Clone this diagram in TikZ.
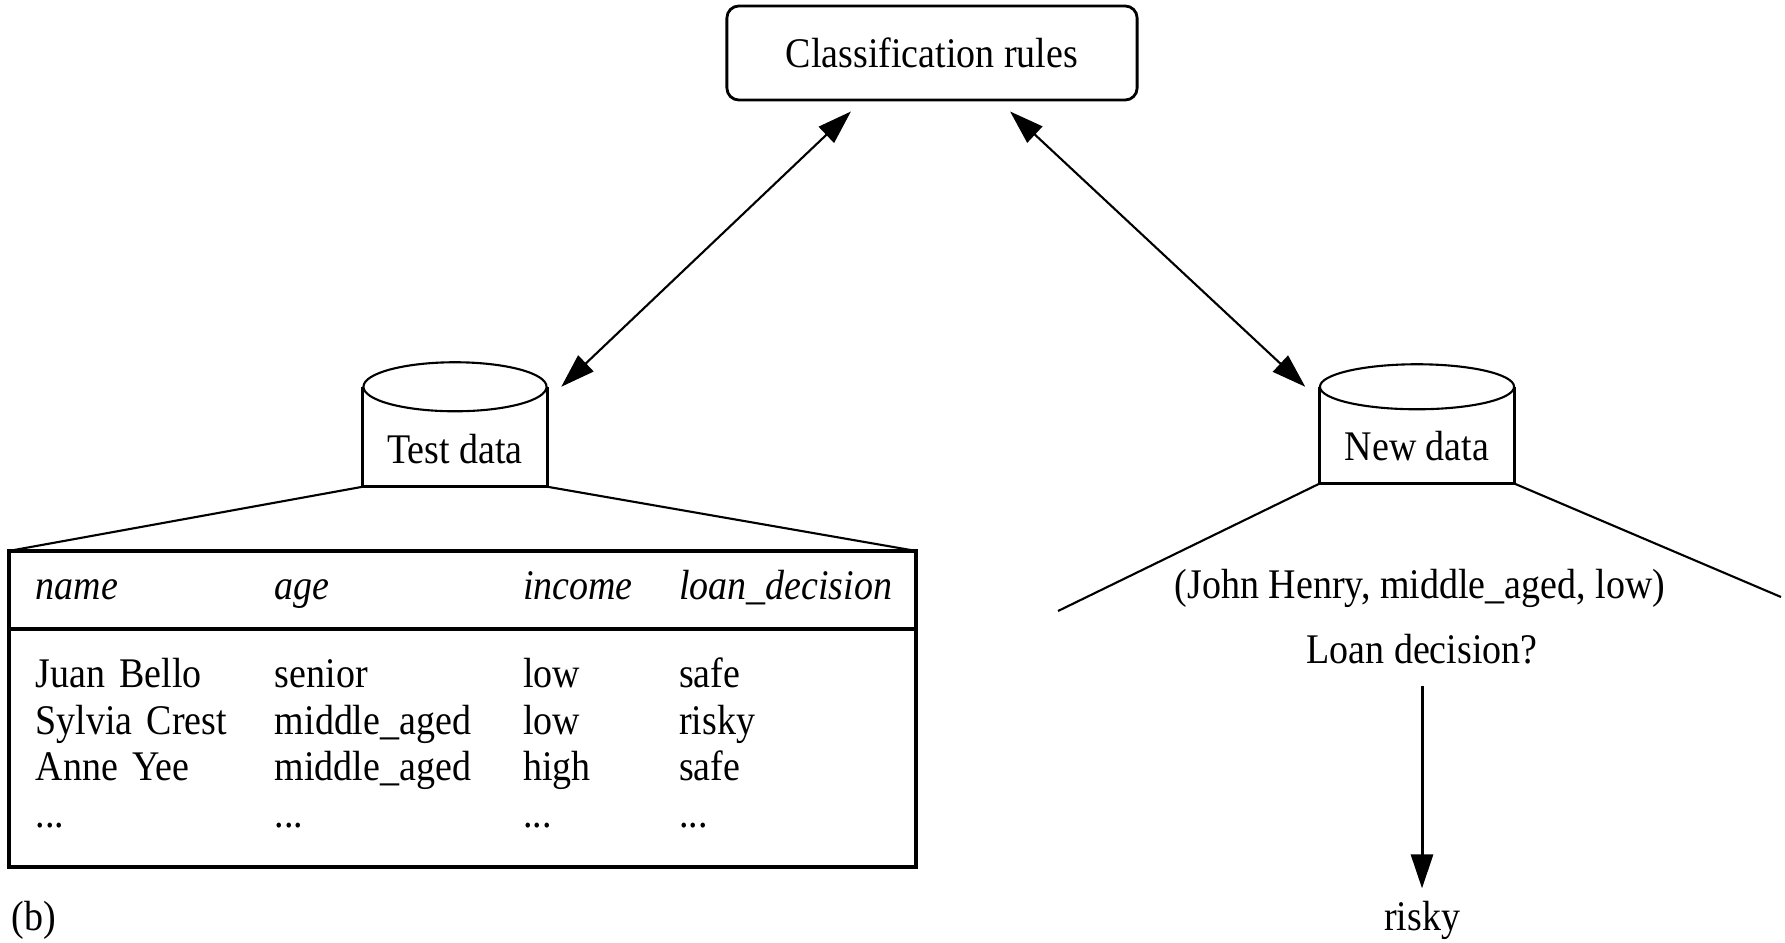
\documentclass[tikz,border=0pt]{standalone}
\usepackage{fontspec}
\setmainfont{Liberation Serif}[FakeStretch=0.9]
\usetikzlibrary{arrows.meta,positioning}

\begin{document}
\begin{tikzpicture}[x=0.01cm, y=-0.01cm,
  every node/.style={font=\fontsize{12}{13.3}\selectfont},
  rulebox/.style={draw, rounded corners=0.12cm, line width=0.8pt, minimum width=4.1cm, minimum height=0.94cm},
  store/.style={inner sep=0pt},
  tablebox/.style={draw, line width=1.1pt, inner xsep=0.27cm, inner ysep=0pt, text width=8.53cm, align=left, outer sep=0pt},
  link/.style={{Triangle[length=3.4mm,width=2.2mm]}-{Triangle[length=3.4mm,width=2.2mm]}, line width=0.6pt},
  fan/.style={line width=0.6pt}]

\useasboundingbox (0,0) rectangle (1785,942);

\node[rulebox] (rules) at (932,53) {Classification rules};

% data stores
\node[store, minimum width=1.83cm, minimum height=0.74cm] (testdata) at (455,449) {Test data};
\draw[line width=0.85pt] ([yshift=0.245cm]testdata.north west) -- (testdata.south west) -- (testdata.south east) -- ([yshift=0.245cm]testdata.north east);
\draw[line width=0.6pt] ([yshift=0.245cm]testdata.north) ellipse [x radius=0.915cm, y radius=0.245cm];

\node[store, minimum width=1.94cm, minimum height=0.73cm] (newdata) at (1417,446.5) {New data};
\draw[line width=0.85pt] ([yshift=0.225cm]newdata.north west) -- (newdata.south west) -- (newdata.south east) -- ([yshift=0.225cm]newdata.north east);
\draw[line width=0.6pt] ([yshift=0.225cm]newdata.north) ellipse [x radius=0.97cm, y radius=0.225cm];

% table of test tuples
\node[tablebox, minimum height=0.78cm] (thead) at (462.5,590) {%
  \begin{tabular}{@{}p{2.39cm}@{}p{2.48cm}@{}p{1.56cm}@{}l@{}}
  \textit{name} & \textit{age} & \textit{income} & \textit{loan\_decision}
  \end{tabular}};
\node[tablebox, minimum height=2.38cm, below=0pt of thead] (tbody) {%
  \begin{tabular}{@{}p{2.39cm}@{}p{2.48cm}@{}p{1.56cm}@{}l@{}}
  Juan Bello & senior & low & safe\\
  Sylvia Crest & middle\_aged & low & risky\\
  Anne Yee & middle\_aged & high & safe\\
  ... & ... & ... & ...
  \end{tabular}};

\draw[fan] (testdata.south west) -- (thead.north west);
\draw[fan] (testdata.south east) -- (thead.north east);

% new tuple
\coordinate (fanleft) at (1058,611);
\coordinate (fanright) at (1781,597);
\draw[fan] (newdata.south west) -- (fanleft);
\draw[fan] (newdata.south east) -- (fanright);

\node (query) at (1420,588) {(John Henry, middle\_aged, low)};
\node (question) at (1422,649) {Loan decision?};
\node (risky) at (1422,920) {risky};
\node (label) at (34,920) {(b)};

\draw[link] ([xshift=-0.81cm,yshift=-0.1cm]rules.south) -- ([xshift=0.14cm,yshift=0.245cm]testdata.north east);
\draw[link] ([xshift=0.78cm,yshift=-0.1cm]rules.south) -- ([xshift=-0.14cm,yshift=0.225cm]newdata.north west);
\draw[-{Triangle[length=3.4mm,width=2.2mm]}, line width=0.85pt, shorten <=0.1cm] (question) -- (risky);
\end{tikzpicture}
\end{document}
